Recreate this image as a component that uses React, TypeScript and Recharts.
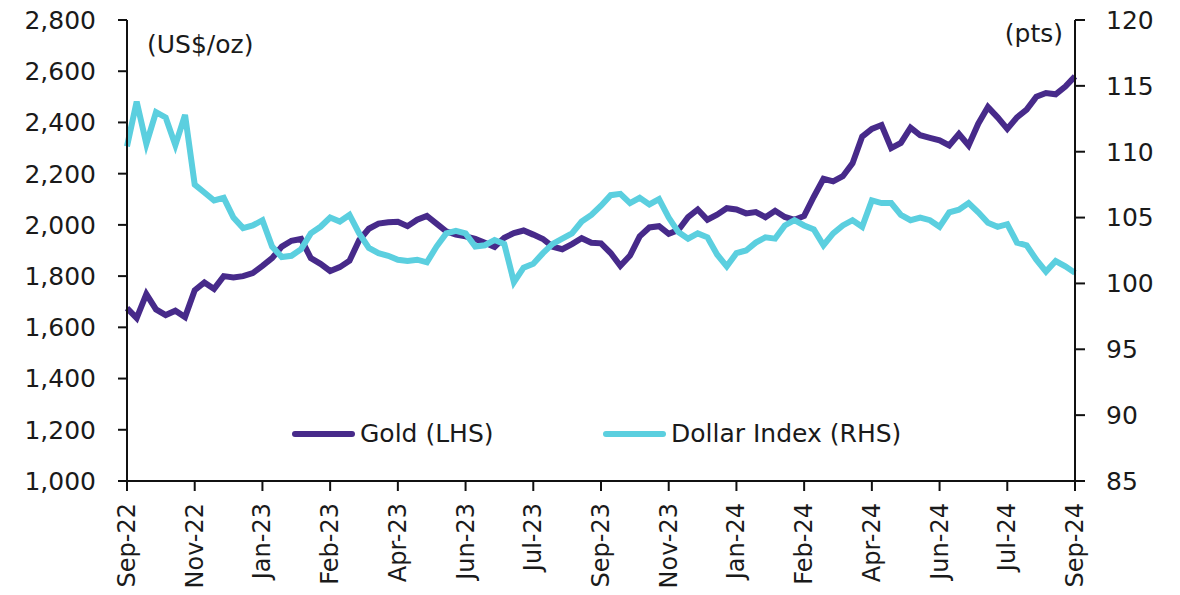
import { Line, LineChart, XAxis, YAxis } from "recharts";

const FONT = "'DejaVu Sans', sans-serif";
const INK = "#1a1a1a";
const GOLD_COLOR = "#472a8a";
const DXY_COLOR = "#5bcfdf";

// tick labels along the bottom, one every 7 points
const months = [
  "Sep-22", "Nov-22", "Jan-23", "Feb-23", "Apr-23", "Jun-23", "Jul-23", "Sep-23",
  "Nov-23", "Jan-24", "Feb-24", "Apr-24", "Jun-24", "Jul-24", "Sep-24",
];

// gold price, US$/oz (LHS)
const gold = [
  1675, 1636, 1730, 1670, 1648, 1665, 1640, 1745, 1775, 1750,
  1800, 1795, 1800, 1812, 1840, 1870, 1915, 1938, 1945, 1870,
  1848, 1820, 1835, 1860, 1940, 1985, 2005, 2010, 2012, 1995,
  2020, 2035, 2005, 1975, 1962, 1955, 1945, 1930, 1914, 1950,
  1968, 1978, 1962, 1945, 1915, 1905, 1925, 1948, 1930, 1928,
  1890, 1840, 1880, 1955, 1990, 1995, 1965, 1980, 2030, 2060,
  2020, 2040, 2065, 2060, 2045, 2050, 2030, 2055, 2031, 2020,
  2035, 2110, 2180, 2170, 2190, 2240, 2345, 2375, 2390, 2300,
  2320, 2380, 2350, 2340, 2330, 2310, 2355, 2310, 2395, 2460,
  2420, 2375, 2420, 2450, 2500, 2515, 2510, 2540, 2580,
];

// dollar index, pts (RHS)
const dollar = [
  110.4, 113.8, 110.6, 113.0, 112.6, 110.5, 112.8, 107.5, 106.9, 106.3,
  106.5, 105.0, 104.2, 104.4, 104.8, 102.8, 102.0, 102.1, 102.6, 103.8,
  104.3, 105.0, 104.7, 105.2, 103.8, 102.7, 102.3, 102.1, 101.8, 101.7,
  101.8, 101.6, 102.8, 103.8, 104.0, 103.8, 102.8, 102.9, 103.3, 103.0,
  100.1, 101.2, 101.5, 102.3, 103.0, 103.4, 103.8, 104.7, 105.2, 105.9,
  106.7, 106.8, 106.1, 106.5, 106.0, 106.4, 105.0, 103.9, 103.4, 103.8,
  103.5, 102.2, 101.3, 102.3, 102.5, 103.1, 103.5, 103.4, 104.4, 104.8,
  104.4, 104.1, 102.9, 103.8, 104.4, 104.8, 104.3, 106.3, 106.1, 106.1,
  105.2, 104.8, 105.0, 104.8, 104.3, 105.4, 105.6, 106.1, 105.4, 104.6,
  104.3, 104.5, 103.1, 102.9, 101.8, 100.9, 101.7, 101.3, 100.8,
];

const leftTicks = [1000, 1200, 1400, 1600, 1800, 2000, 2200, 2400, 2600, 2800];
const rightTicks = [85, 90, 95, 100, 105, 110, 115, 120];

const STEP = 7;
const data = gold.map((g, i) => ({ i, gold: g, dollar: dollar[i] }));
const xTicks = months.map((_, k) => k * STEP);

function MonthTick(props: any) {
  const { x, y, payload } = props;
  return (
    <text
      x={x}
      y={y}
      transform={`rotate(-90 ${x} ${y})`}
      textAnchor="end"
      dominantBaseline="central"
      fontSize={24}
      fontFamily={FONT}
      fill={INK}
    >
      {months[Math.round(payload.value / STEP)]}
    </text>
  );
}

const labelStyle: React.CSSProperties = {
  position: "absolute",
  fontFamily: FONT,
  fontSize: 25,
  lineHeight: "24px",
  color: INK,
  whiteSpace: "nowrap",
};

function LegendItem({ color, text, left }: { color: string; text: string; left: number }) {
  return (
    <div style={{ ...labelStyle, left, top: 422, display: "flex", alignItems: "center" }}>
      <span
        style={{
          display: "inline-block",
          width: 63,
          height: 6,
          borderRadius: 3,
          background: color,
          marginRight: 5,
        }}
      />
      {text}
    </div>
  );
}

export default function App() {
  const axisLine = { stroke: "#111", strokeWidth: 2 };
  const tickStyle = { fill: INK, fontSize: 25, fontFamily: FONT };
  return (
    <div style={{ position: "relative", width: 1180, height: 595, margin: "-8px 0 0 -8px" }}>
      <LineChart
        width={1180}
        height={595}
        data={data}
        margin={{ top: 20, right: 0, bottom: 0, left: 0 }}
      >
        <XAxis
          dataKey="i"
          type="number"
          domain={[0, 98]}
          ticks={xTicks}
          interval={0}
          height={114}
          tickSize={10}
          tickMargin={12}
          axisLine={axisLine}
          tickLine={axisLine}
          tick={<MonthTick />}
        />
        <YAxis
          yAxisId="left"
          domain={[1000, 2800]}
          ticks={leftTicks}
          interval={0}
          width={127}
          tickSize={9}
          tickMargin={22}
          axisLine={axisLine}
          tickLine={axisLine}
          tick={tickStyle}
          tickFormatter={(v: number) => v.toLocaleString("en-US")}
        />
        <YAxis
          yAxisId="right"
          orientation="right"
          domain={[85, 120]}
          ticks={rightTicks}
          interval={0}
          width={105}
          tickSize={10}
          tickMargin={21}
          axisLine={axisLine}
          tickLine={axisLine}
          tick={{ ...tickStyle, textAnchor: "start" }}
        />
        <Line
          yAxisId="left"
          dataKey="gold"
          stroke={GOLD_COLOR}
          strokeWidth={6}
          dot={false}
          type="linear"
          isAnimationActive={false}
        />
        <Line
          yAxisId="right"
          dataKey="dollar"
          stroke={DXY_COLOR}
          strokeWidth={6}
          dot={false}
          type="linear"
          isAnimationActive={false}
        />
      </LineChart>
      <div style={{ ...labelStyle, left: 147, top: 33 }}>(US$/oz)</div>
      <div style={{ ...labelStyle, right: 117, top: 22 }}>(pts)</div>
      <LegendItem color={GOLD_COLOR} text="Gold (LHS)" left={292} />
      <LegendItem color={DXY_COLOR} text="Dollar Index (RHS)" left={603} />
    </div>
  );
}
